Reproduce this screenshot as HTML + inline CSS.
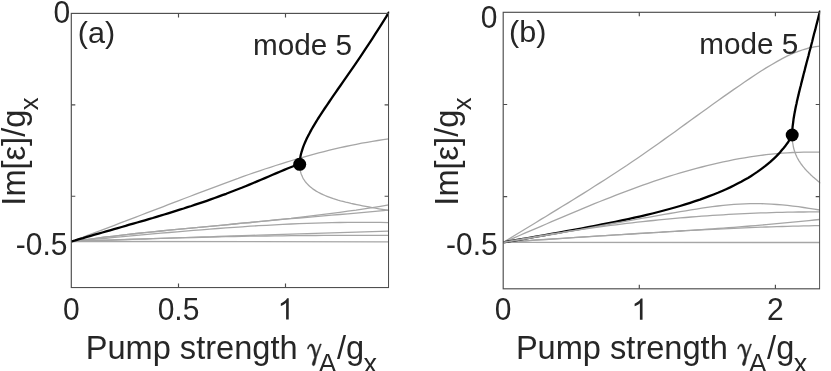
<!DOCTYPE html>
<html><head><meta charset="utf-8"><title>fig</title>
<style>
html,body{margin:0;padding:0;background:#fff;}
body{width:831px;height:371px;overflow:hidden;}
svg{display:block;font-family:"Liberation Sans",sans-serif;filter:grayscale(1);}
.g{fill:none;stroke:#a6a6a6;stroke-width:1.3;}
.k{fill:none;stroke:#000;stroke-width:2.3;stroke-linejoin:round;}
.ax{fill:none;stroke:#4c4c4c;stroke-width:1.15;}
text{fill:#262626;}
.t{font-size:30px;}
.l{font-size:32.6px;}
.p{font-size:30.6px;}
.m{font-size:29.7px;}
.s{font-size:27px;}
.sym{font-family:"Liberation Serif",serif;}
</style></head><body>
<svg width="831" height="371" viewBox="0 0 831 371">
<rect width="831" height="371" fill="#fff"/>
<defs>
<clipPath id="ca"><rect x="70" y="11.5" width="319.2" height="277"/></clipPath>
<clipPath id="cb"><rect x="502" y="10.5" width="318.3" height="279.5"/></clipPath>
</defs>
<g clip-path="url(#ca)">
<path d="M71.4 241.5L76.8 239.5L82.2 237.5L87.5 235.4L92.9 233.4L98.3 231.4L103.7 229.3L109.0 227.3L114.4 225.3L119.8 223.2L125.2 221.2L130.5 219.1L135.9 217.1L141.3 215.0L146.7 212.9L152.0 210.9L157.4 208.8L162.8 206.8L168.2 204.7L173.5 202.6L178.9 200.6L184.3 198.5L189.7 196.5L195.1 194.4L200.4 192.4L205.8 190.3L211.2 188.3L216.6 186.3L221.9 184.3L227.3 182.3L232.7 180.3L238.1 178.4L243.4 176.4L248.8 174.5L254.2 172.7L259.6 170.8L264.9 169.0L270.3 167.3L275.7 165.5L281.1 163.8L286.5 162.1L291.8 160.5L297.2 158.9L302.6 157.4L308.0 155.8L313.3 154.4L318.7 152.9L324.1 151.6L329.5 150.2L334.8 148.9L340.2 147.7L345.6 146.5L351.0 145.4L356.3 144.3L361.7 143.2L367.1 142.3L372.5 141.3L377.8 140.5L383.2 139.7L388.6 138.9" class="g"/>
<path d="M71.4 241.5L79.5 240.4L87.7 239.3L95.8 238.3L103.9 237.2L112.1 236.3L120.2 235.3L128.3 234.4L136.5 233.5L144.6 232.7L152.7 231.8L160.9 231.0L169.0 230.2L177.1 229.4L185.3 228.6L193.4 227.9L201.5 227.1L209.7 226.3L217.8 225.6L225.9 224.8L234.1 224.0L242.2 223.2L250.3 222.5L258.5 221.6L266.6 220.8L274.7 220.0L282.9 219.1L291.0 218.3L299.1 217.3L307.3 216.4L315.4 215.4L323.5 214.4L331.7 213.4L339.8 212.3L347.9 211.2L356.1 210.1L364.2 208.8L372.3 207.6L380.5 206.3L388.6 204.9" class="g"/>
<path d="M71.4 241.5L79.5 240.4L87.7 239.3L95.8 238.3L103.9 237.2L112.1 236.3L120.2 235.3L128.3 234.4L136.5 233.5L144.6 232.7L152.7 231.8L160.9 231.0L169.0 230.2L177.1 229.4L185.3 228.6L193.4 227.9L201.5 227.1L209.7 226.3L217.8 225.6L225.9 224.8L234.1 224.0L242.2 223.2L250.3 222.5L258.5 221.7L266.6 220.9L274.7 220.2L282.9 219.4L291.0 218.7L299.1 218.0L307.3 217.3L315.4 216.6L323.5 215.9L331.7 215.2L339.8 214.5L347.9 213.8L356.1 213.1L364.2 212.4L372.3 211.6L380.5 210.9L388.6 210.1" class="g"/>
<path d="M71.4 241.5L79.5 240.7L87.7 240.0L95.8 239.2L103.9 238.5L112.1 237.7L120.2 236.9L128.3 236.2L136.5 235.4L144.6 234.7L152.7 233.9L160.9 233.2L169.0 232.5L177.1 231.8L185.3 231.1L193.4 230.4L201.5 229.8L209.7 229.1L217.8 228.5L225.9 227.9L234.1 227.3L242.2 226.8L250.3 226.2L258.5 225.7L266.6 225.3L274.7 224.8L282.9 224.4L291.0 224.0L299.1 223.7L307.3 223.4L315.4 223.1L323.5 222.9L331.7 222.7L339.8 222.5L347.9 222.4L356.1 222.4L364.2 222.3L372.3 222.4L380.5 222.4L388.6 222.6" class="g"/>
<path d="M71.4 241.5L79.5 241.2L87.7 240.9L95.8 240.6L103.9 240.4L112.1 240.1L120.2 239.8L128.3 239.5L136.5 239.2L144.6 239.0L152.7 238.7L160.9 238.4L169.0 238.1L177.1 237.9L185.3 237.6L193.4 237.3L201.5 237.0L209.7 236.8L217.8 236.5L225.9 236.2L234.1 236.0L242.2 235.7L250.3 235.4L258.5 235.2L266.6 234.9L274.7 234.7L282.9 234.4L291.0 234.2L299.1 233.9L307.3 233.6L315.4 233.4L323.5 233.1L331.7 232.9L339.8 232.6L347.9 232.4L356.1 232.2L364.2 231.9L372.3 231.7L380.5 231.4L388.6 231.2" class="g"/>
<path d="M71.4 241.5L79.5 241.2L87.7 240.9L95.8 240.5L103.9 240.2L112.1 240.0L120.2 239.7L128.3 239.4L136.5 239.1L144.6 238.9L152.7 238.6L160.9 238.4L169.0 238.1L177.1 237.9L185.3 237.7L193.4 237.5L201.5 237.3L209.7 237.1L217.8 236.9L225.9 236.7L234.1 236.5L242.2 236.4L250.3 236.2L258.5 236.1L266.6 236.0L274.7 235.9L282.9 235.8L291.0 235.7L299.1 235.6L307.3 235.5L315.4 235.5L323.5 235.4L331.7 235.4L339.8 235.3L347.9 235.3L356.1 235.3L364.2 235.3L372.3 235.3L380.5 235.4L388.6 235.4" class="g"/>
<path d="M71.4 241.5L388.6 241.8" class="g"/>
<path d="M299.7 164.3L299.7 165.9L299.8 167.5L300.0 169.0L300.3 170.5L300.6 171.9L301.0 173.4L301.5 174.8L302.1 176.1L302.7 177.5L303.4 178.8L304.2 180.0L305.1 181.3L306.0 182.5L307.0 183.6L308.1 184.8L309.3 185.9L310.5 187.0L311.8 188.1L313.2 189.1L314.7 190.1L316.2 191.1L317.8 192.0L319.5 192.9L321.3 193.8L323.1 194.7L325.0 195.5L327.0 196.3L329.1 197.1L331.2 197.9L333.4 198.7L335.7 199.4L338.0 200.1L340.5 200.8L343.0 201.4L345.6 202.1L348.2 202.7L351.0 203.4L353.8 204.0L356.7 204.6L359.6 205.2L362.6 205.8L365.7 206.4L368.9 207.0L372.2 207.6L375.5 208.2L378.9 208.8L382.4 209.4L386.0 210.0L389.6 210.7" class="g"/>
<path d="M71.4 241.5L75.3 240.4L79.1 239.2L83.0 238.1L86.9 236.9L90.7 235.8L94.6 234.7L98.5 233.6L102.4 232.5L106.2 231.4L110.1 230.3L114.0 229.2L117.8 228.1L121.7 227.0L125.6 225.9L129.4 224.7L133.3 223.6L137.2 222.5L141.1 221.4L144.9 220.3L148.8 219.1L152.7 218.0L156.5 216.8L160.4 215.7L164.3 214.5L168.1 213.3L172.0 212.1L175.9 210.9L179.7 209.7L183.6 208.5L187.5 207.2L191.4 206.0L195.2 204.7L199.1 203.4L203.0 202.1L206.8 200.8L210.7 199.4L214.6 198.0L218.4 196.6L222.3 195.2L226.2 193.8L230.0 192.3L233.9 190.8L237.8 189.3L241.7 187.8L245.5 186.2L249.4 184.6L253.3 183.0L257.1 181.4L261.0 179.8L264.9 178.1L268.7 176.5L272.6 174.8L276.5 173.1L280.4 171.5L284.2 169.9L288.1 168.3L292.0 166.8L295.8 165.3L299.7 164.0L299.7 164.3L299.7 162.7L299.8 161.0L300.0 159.3L300.3 157.6L300.6 155.8L301.0 154.0L301.5 152.2L302.1 150.3L302.7 148.4L303.4 146.4L304.2 144.4L305.1 142.3L306.0 140.2L307.0 138.1L308.1 135.9L309.3 133.7L310.5 131.4L311.8 129.0L313.2 126.6L314.7 124.1L316.2 121.6L317.8 119.0L319.5 116.4L321.3 113.7L323.1 110.9L325.0 108.0L327.0 105.1L329.1 102.0L331.2 98.9L333.4 95.7L335.7 92.4L338.0 89.0L340.5 85.5L343.0 81.9L345.6 78.2L348.2 74.4L351.0 70.4L353.8 66.3L356.7 62.1L359.6 57.8L362.6 53.3L365.7 48.6L368.9 43.8L372.2 38.8L375.5 33.6L378.9 28.3L382.4 22.8L386.0 17.1L389.6 11.1" class="k"/>
<circle cx="299.70" cy="164.30" r="6.5" fill="#000"/>
<rect x="71.30" y="13.40" width="317.30" height="274.20" class="ax"/>
<path d="M178.50 287.60 v-4 M178.50 13.40 v4 M285.50 287.60 v-4 M285.50 13.40 v4 M71.30 104.80 h4 M388.60 104.80 h-4 M71.30 196.20 h4 M388.60 196.20 h-4" class="ax"/>
</g>
<g clip-path="url(#cb)">
<path d="M503.4 242.4L508.8 239.1L514.1 235.8L519.5 232.5L524.8 229.2L530.2 226.0L535.6 222.7L540.9 219.4L546.3 216.2L551.6 212.9L557.0 209.6L562.4 206.3L567.7 203.1L573.1 199.7L578.5 196.4L583.8 193.1L589.2 189.7L594.5 186.3L599.9 182.9L605.3 179.5L610.6 176.0L616.0 172.5L621.3 169.0L626.7 165.5L632.1 161.8L637.4 158.2L642.8 154.5L648.1 150.8L653.5 147.0L658.9 143.2L664.2 139.4L669.6 135.5L675.0 131.7L680.3 127.8L685.7 123.9L691.0 120.0L696.4 116.1L701.8 112.3L707.1 108.4L712.5 104.5L717.8 100.7L723.2 96.9L728.6 93.1L733.9 89.4L739.3 85.7L744.6 82.0L750.0 78.4L755.4 74.8L760.7 71.3L766.1 67.9L771.5 64.7L776.8 61.6L782.2 58.6L787.5 55.9L792.9 53.5L798.3 51.3L803.6 49.5L809.0 48.0L814.3 46.9L819.7 46.2" class="g"/>
<path d="M503.4 242.4L508.8 240.1L514.1 237.8L519.5 235.5L524.8 233.2L530.2 230.9L535.6 228.6L540.9 226.3L546.3 224.0L551.6 221.7L557.0 219.4L562.4 217.1L567.7 214.8L573.1 212.6L578.5 210.3L583.8 208.1L589.2 205.9L594.5 203.7L599.9 201.5L605.3 199.4L610.6 197.3L616.0 195.2L621.3 193.1L626.7 191.1L632.1 189.1L637.4 187.1L642.8 185.2L648.1 183.3L653.5 181.4L658.9 179.6L664.2 177.9L669.6 176.2L675.0 174.5L680.3 172.9L685.7 171.3L691.0 169.8L696.4 168.4L701.8 167.0L707.1 165.6L712.5 164.3L717.8 163.1L723.2 161.9L728.6 160.8L733.9 159.7L739.3 158.7L744.6 157.8L750.0 156.9L755.4 156.1L760.7 155.4L766.1 154.7L771.5 154.1L776.8 153.6L782.2 153.2L787.5 152.8L792.9 152.5L798.3 152.3L803.6 152.1L809.0 152.1L814.3 152.1L819.7 152.2" class="g"/>
<path d="M503.4 242.4L508.8 242.0L514.1 241.6L519.5 241.2L524.8 240.8L530.2 240.4L535.6 240.0L540.9 239.7L546.3 239.3L551.6 239.0L557.0 238.6L562.4 238.3L567.7 237.9L573.1 237.6L578.5 237.2L583.8 236.9L589.2 236.6L594.5 236.2L599.9 235.9L605.3 235.6L610.6 235.3L616.0 234.9L621.3 234.6L626.7 234.3L632.1 234.0L637.4 233.7L642.8 233.3L648.1 233.0L653.5 232.7L658.9 232.4L664.2 232.0L669.6 231.7L675.0 231.4L680.3 231.0L685.7 230.7L691.0 230.3L696.4 230.0L701.8 229.6L707.1 229.2L712.5 228.8L717.8 228.5L723.2 228.1L728.6 227.7L733.9 227.3L739.3 226.9L744.6 226.5L750.0 226.0L755.4 225.6L760.7 225.1L766.1 224.7L771.5 224.2L776.8 223.7L782.2 223.2L787.5 222.7L792.9 222.2L798.3 221.7L803.6 221.2L809.0 220.6L814.3 220.0L819.7 219.5" class="g"/>
<path d="M503.4 242.4L508.8 242.0L514.1 241.7L519.5 241.3L524.8 241.0L530.2 240.6L535.6 240.2L540.9 239.9L546.3 239.5L551.6 239.2L557.0 238.8L562.4 238.4L567.7 238.1L573.1 237.7L578.5 237.4L583.8 237.0L589.2 236.6L594.5 236.3L599.9 235.9L605.3 235.6L610.6 235.2L616.0 234.9L621.3 234.6L626.7 234.2L632.1 233.9L637.4 233.5L642.8 233.2L648.1 232.9L653.5 232.6L658.9 232.3L664.2 231.9L669.6 231.6L675.0 231.3L680.3 231.0L685.7 230.7L691.0 230.4L696.4 230.2L701.8 229.9L707.1 229.6L712.5 229.3L717.8 229.1L723.2 228.8L728.6 228.6L733.9 228.3L739.3 228.1L744.6 227.9L750.0 227.7L755.4 227.4L760.7 227.2L766.1 227.0L771.5 226.9L776.8 226.7L782.2 226.5L787.5 226.4L792.9 226.2L798.3 226.1L803.6 225.9L809.0 225.8L814.3 225.7L819.7 225.6" class="g"/>
<path d="M503.4 242.4L819.7 242.5" class="g"/>
<path d="M792.2 135.0L792.2 136.3L792.2 137.6L792.3 138.8L792.4 140.0L792.5 141.2L792.6 142.4L792.8 143.5L793.0 144.7L793.2 145.8L793.4 146.9L793.6 148.0L793.9 149.0L794.2 150.1L794.5 151.1L794.9 152.1L795.2 153.1L795.6 154.1L796.0 155.1L796.5 156.1L796.9 157.0L797.4 158.0L797.9 158.9L798.5 159.9L799.0 160.8L799.6 161.7L800.2 162.7L800.9 163.6L801.5 164.5L802.2 165.4L802.9 166.3L803.6 167.2L804.4 168.1L805.1 169.0L805.9 169.9L806.7 170.8L807.6 171.6L808.5 172.5L809.3 173.4L810.3 174.3L811.2 175.2L812.2 176.1L813.1 177.0L814.1 177.8L815.2 178.7L816.2 179.6L817.3 180.5L818.4 181.4L819.5 182.3L820.7 183.1" class="g"/>
<path d="M503.4 242.4L511.7 240.9L519.9 239.5L528.0 238.1L535.9 236.7L543.7 235.3L551.4 233.9L559.0 232.6L566.5 231.2L573.8 229.9L581.0 228.6L588.1 227.2L595.1 225.9L602.0 224.5L608.7 223.2L615.3 221.8L621.8 220.5L628.2 219.1L634.4 217.7L640.6 216.3L646.6 214.9L652.4 213.5L658.2 212.0L663.8 210.5L669.4 209.0L674.8 207.5L680.0 206.0L685.2 204.4L690.2 202.8L695.1 201.2L699.9 199.6L704.6 197.9L709.2 196.2L713.6 194.5L717.9 192.8L722.1 191.0L726.1 189.2L730.1 187.4L733.9 185.5L737.6 183.6L741.2 181.7L744.6 179.8L748.0 177.9L751.2 175.9L754.3 173.9L757.3 171.9L760.1 169.9L762.8 167.9L765.4 165.9L767.9 163.8L770.3 161.8L772.5 159.8L774.7 157.8L776.7 155.9L778.6 153.9L780.3 152.0L781.9 150.1L783.5 148.3L784.9 146.6L786.1 144.9L787.3 143.3L788.3 141.8L789.2 140.4L790.0 139.1L790.7 138.0L791.2 137.0L791.7 136.2L792.0 135.6L792.1 135.2L792.2 135.0L792.2 135.0L792.2 133.7L792.2 132.3L792.3 130.9L792.4 129.5L792.5 128.1L792.6 126.6L792.8 125.1L793.0 123.6L793.2 122.0L793.4 120.3L793.6 118.7L793.9 117.0L794.2 115.2L794.5 113.4L794.9 111.6L795.2 109.7L795.6 107.7L796.0 105.7L796.5 103.7L796.9 101.6L797.4 99.4L797.9 97.2L798.5 94.9L799.0 92.6L799.6 90.2L800.2 87.7L800.9 85.2L801.5 82.6L802.2 79.9L802.9 77.1L803.6 74.3L804.4 71.4L805.1 68.4L805.9 65.4L806.7 62.2L807.6 59.0L808.5 55.7L809.3 52.3L810.3 48.8L811.2 45.2L812.2 41.5L813.1 37.7L814.1 33.8L815.2 29.9L816.2 25.8L817.3 21.6L818.4 17.3L819.5 12.8L820.7 8.3" class="k"/>
<path d="M503.4 242.4L508.8 241.6L514.1 240.7L519.5 239.9L524.8 239.0L530.2 238.1L535.6 237.2L540.9 236.3L546.3 235.4L551.6 234.5L557.0 233.6L562.4 232.6L567.7 231.7L573.1 230.8L578.5 229.8L583.8 228.8L589.2 227.9L594.5 226.9L599.9 226.0L605.3 225.0L610.6 224.0L616.0 223.0L621.3 222.1L626.7 221.1L632.1 220.1L637.4 219.2L642.8 218.2L648.1 217.3L653.5 216.3L658.9 215.4L664.2 214.4L669.6 213.5L675.0 212.6L680.3 211.7L685.7 210.8L691.0 209.9L696.4 209.1L701.8 208.2L707.1 207.4L712.5 206.7L717.8 206.0L723.2 205.4L728.6 204.9L733.9 204.4L739.3 204.1L744.6 203.8L750.0 203.6L755.4 203.6L760.7 203.7L766.1 203.8L771.5 204.1L776.8 204.5L782.2 204.9L787.5 205.4L792.9 206.1L798.3 206.7L803.6 207.5L809.0 208.3L814.3 209.1L819.7 210.0" class="g"/>
<path d="M503.4 242.4L508.8 241.4L514.1 240.4L519.5 239.5L524.8 238.5L530.2 237.6L535.6 236.6L540.9 235.7L546.3 234.9L551.6 234.0L557.0 233.1L562.4 232.3L567.7 231.5L573.1 230.6L578.5 229.8L583.8 229.1L589.2 228.3L594.5 227.6L599.9 226.8L605.3 226.1L610.6 225.4L616.0 224.8L621.3 224.1L626.7 223.4L632.1 222.8L637.4 222.2L642.8 221.6L648.1 221.0L653.5 220.5L658.9 219.9L664.2 219.4L669.6 218.9L675.0 218.4L680.3 217.9L685.7 217.5L691.0 217.0L696.4 216.6L701.8 216.2L707.1 215.8L712.5 215.4L717.8 215.1L723.2 214.8L728.6 214.4L733.9 214.2L739.3 213.9L744.6 213.6L750.0 213.4L755.4 213.1L760.7 212.9L766.1 212.8L771.5 212.6L776.8 212.4L782.2 212.3L787.5 212.2L792.9 212.1L798.3 212.0L803.6 212.0L809.0 211.9L814.3 211.9L819.7 211.9" class="g"/>
<circle cx="792.20" cy="135.00" r="6.5" fill="#000"/>
<rect x="503.20" y="12.30" width="316.50" height="276.50" class="ax"/>
<path d="M639.30 288.80 v-4 M639.30 12.30 v4 M775.40 288.80 v-4 M775.40 12.30 v4 M503.20 104.50 h4 M819.70 104.50 h-4 M503.20 196.60 h4 M819.70 196.60 h-4" class="ax"/>
</g>
<g opacity="0.999">
<text class="t" transform="translate(61.80,22.70) scale(1,1.055)" text-anchor="middle">0</text>
<text class="t" transform="translate(67.50,255.00) scale(1,1.055)" text-anchor="end">-0.5</text>
<text class="t" transform="translate(71.30,319.70) scale(1,1.055)" text-anchor="middle">0</text>
<text class="t" transform="translate(178.50,319.70) scale(1,1.055)" text-anchor="middle">0.5</text>
<path transform="translate(277.56,319.50) scale(0.014648,-0.014500)" d="M763 0H583V1147Q518 1085 412.5 1023T223 930V1104Q375 1175.5 488.5 1277T650 1474H763Z" fill="#262626"/>
<text class="p" transform="translate(77.8,42.9) scale(1,0.955)">(a)</text>
<text class="m" x="253.1" y="54.7">mode 5</text>
<text class="t" transform="translate(489.20,28.00) scale(1,1.055)" text-anchor="middle">0</text>
<text class="t" transform="translate(497.70,254.90) scale(1,1.055)" text-anchor="end">-0.5</text>
<text class="t" transform="translate(503.20,320.00) scale(1,1.055)" text-anchor="middle">0</text>
<path transform="translate(631.36,319.80) scale(0.014648,-0.014500)" d="M763 0H583V1147Q518 1085 412.5 1023T223 930V1104Q375 1175.5 488.5 1277T650 1474H763Z" fill="#262626"/>
<text class="t" transform="translate(775.40,320.00) scale(1,1.055)" text-anchor="middle">2</text>
<text class="p" transform="translate(509.0,42.4) scale(1,0.955)">(b)</text>
<text class="m" x="699.3" y="54.2">mode 5</text>
<g>
<text class="l" x="85.7" y="359">Pump strength</text>
<path transform="translate(300,338) scale(0.08889)" d="M84 122C88 92 106 68 130 68C150 68 160 100 168 135L180 190L226 68L240 68L186 215C180 250 172 280 168 296C164 316 140 316 138 296C137 278 152 250 164 218C156 170 146 120 128 92C118 84 100 92 94 124Z" fill="#262626" stroke="#262626" stroke-width="6" stroke-linejoin="round"/>
<text class="s" x="318.6" y="372.8">A</text>
<text class="l" x="336.9" y="359">/g</text>
<text class="s" x="363.5" y="372.8">x</text>
</g>
<g transform="translate(430.2,0)">
<text class="l" x="85.7" y="359">Pump strength</text>
<path transform="translate(300,338) scale(0.08889)" d="M84 122C88 92 106 68 130 68C150 68 160 100 168 135L180 190L226 68L240 68L186 215C180 250 172 280 168 296C164 316 140 316 138 296C137 278 152 250 164 218C156 170 146 120 128 92C118 84 100 92 94 124Z" fill="#262626" stroke="#262626" stroke-width="6" stroke-linejoin="round"/>
<text class="s" x="318.6" y="372.8">A</text>
<text class="l" x="336.9" y="359">/g</text>
<text class="s" x="363.5" y="372.8">x</text>
</g>
<g>
<text class="l" transform="translate(24.9,202.6) rotate(-90)" x="-3.05" y="0">Im[ε]/g</text>
<text class="s" style="font-size:25.8px" transform="translate(37.8,110.2) rotate(-90)" x="0" y="0">x</text>
</g>
<g transform="translate(432.8,0)">
<text class="l" transform="translate(24.9,202.6) rotate(-90)" x="-3.05" y="0">Im[ε]/g</text>
<text class="s" style="font-size:25.8px" transform="translate(37.8,110.2) rotate(-90)" x="0" y="0">x</text>
</g>
</g>
</svg>
</body></html>
